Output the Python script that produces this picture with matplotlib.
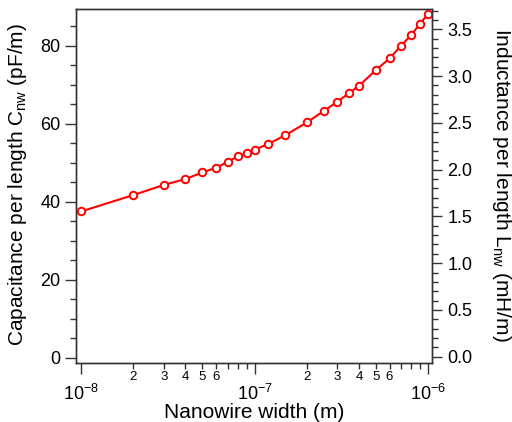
import matplotlib
matplotlib.use("Agg")
import matplotlib.pyplot as plt
from matplotlib.ticker import LogLocator, FuncFormatter, MultipleLocator
import numpy as np

plt.rcParams['font.family'] = ['Liberation Sans', 'DejaVu Sans']
plt.rcParams['mathtext.default'] = 'regular'

# Data
width_m = [1e-8, 2e-8, 3e-8, 4e-8, 5e-8, 6e-8, 7e-8, 8e-8, 9e-8, 1e-7,
           1.2e-7, 1.5e-7, 2e-7, 2.5e-7, 3e-7, 3.5e-7, 4e-7, 5e-7, 6e-7,
           7e-7, 8e-7, 9e-7, 1e-6]
cap_pF_m = [37.5, 41.7, 44.3, 45.8, 47.5, 48.7, 50.2, 51.6, 52.4, 53.3,
            54.8, 57.0, 60.3, 63.2, 65.6, 67.8, 69.7, 73.7, 76.7,
            80.0, 82.7, 85.6, 88.1]

xlabel = "Nanowire width (m)"
ylabel_left = "Capacitance per length C$_{nw}$ (pF/m)"
ylabel_right = "Inductance per length L$_{nw}$ (mH/m)"

W, H = 512, 422
fig = plt.figure(figsize=(W / 100, H / 100), dpi=100)
L, R, T, B = 76, 432, 9.3, 363.3
ax = fig.add_axes([L / W, 1 - B / H, (R - L) / W, (B - T) / H])

ax.plot(width_m, cap_pF_m, color='#ff0000', lw=1.5, marker='o', ms=5.4,
        mfc='white', mec='#ff0000', mew=1.4, zorder=3)

ax.set_xscale('log')
ax.set_xlim(10 ** -8.029, 10 ** -5.977)
ax.set_ylim(-1.4, 89.3)

ax.xaxis.set_major_locator(LogLocator(base=10, numticks=10))
ax.xaxis.set_minor_locator(LogLocator(base=10, subs=np.arange(2, 10), numticks=20))

def minor_fmt(x, pos):
    m = x / 10 ** np.floor(np.log10(x) + 1e-9)
    mi = int(round(m))
    return str(mi) if mi in (2, 3, 4, 5, 6) else ''

ax.xaxis.set_minor_formatter(FuncFormatter(minor_fmt))
ax.xaxis.set_major_formatter(FuncFormatter(
    lambda x, p: r'$10^{%d}$' % int(round(np.log10(x)))))

ax.yaxis.set_major_locator(MultipleLocator(20))
ax.yaxis.set_minor_locator(MultipleLocator(5))

spine_col = '#333333'
for s in ax.spines.values():
    s.set_color(spine_col)
    s.set_linewidth(1.0)

ax.tick_params(axis='x', which='major', direction='out', length=8, width=1,
               colors=spine_col, labelcolor='black', labelsize=13, pad=6.5, top=False)
ax.tick_params(axis='x', which='minor', direction='out', length=4, width=1,
               colors=spine_col, labelcolor='black', labelsize=9.5, pad=1.5, top=False)
ax.tick_params(axis='y', which='major', direction='out', length=8, width=1,
               colors=spine_col, labelcolor='black', labelsize=13, pad=3, right=False)
ax.tick_params(axis='y', which='minor', direction='out', length=4, width=1,
               colors=spine_col, right=False)

# Right axis (inductance)
ax2 = ax.twinx()
px_per_unit = (356.7 - 29.3) / 3.5
ax2.set_ylim((356.7 - B) / px_per_unit, (356.7 - T) / px_per_unit)
ax2.yaxis.set_major_locator(MultipleLocator(0.5))
ax2.yaxis.set_minor_locator(MultipleLocator(0.1))
ax2.yaxis.set_major_formatter(FuncFormatter(lambda v, p: '%.1f' % v))
for s in ax2.spines.values():
    s.set_color(spine_col)
    s.set_linewidth(1.0)
ax2.tick_params(axis='y', which='major', direction='out', length=7, width=1,
                colors=spine_col, labelcolor='black', labelsize=13, pad=4)
ax2.tick_params(axis='y', which='minor', direction='out', length=4, width=1,
                colors=spine_col)

fig.text(18 / W, 1 - 185 / H, ylabel_left, rotation=90, ha='center', va='center',
         fontsize=15)
fig.text(501 / W, 1 - 185 / H, ylabel_right, rotation=270, ha='center', va='center',
         fontsize=15)
fig.text((L + R) / 2 / W, 1 - 412 / H, xlabel, ha='center', va='center', fontsize=15)

fig.savefig('out.png', dpi=100)
